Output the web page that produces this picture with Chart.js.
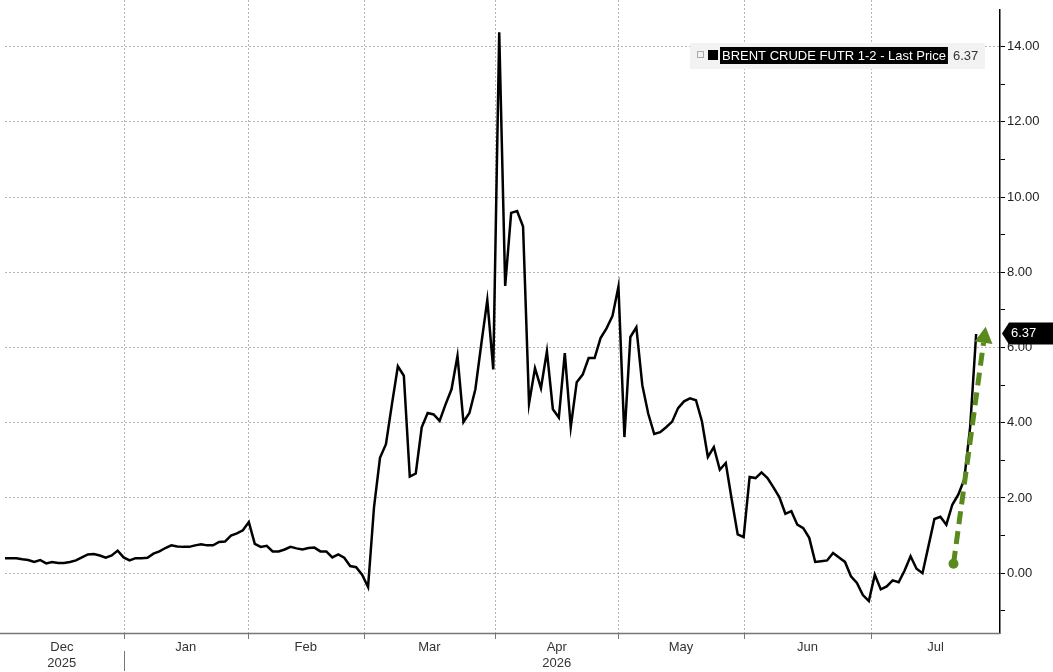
<!DOCTYPE html>
<html>
<head>
<meta charset="utf-8">
<script src="https://cdn.jsdelivr.net/npm/chart.js@4/dist/chart.umd.min.js"></script>
<style>
  html, body { margin: 0; padding: 0; background: #fff; }
  #wrap { width: 1053px; height: 672px; }
</style>
</head>
<body>
<div id="wrap"><canvas id="c" width="1053" height="672"></canvas></div>
<script>
// ── data (one point per trading day) ──
const decFeb = [0.40, 0.40, 0.40, 0.37, 0.35, 0.30, 0.35, 0.26, 0.30, 0.27, 0.27, 0.30, 0.34, 0.42, 0.50,
  0.51, 0.47, 0.41, 0.47, 0.60, 0.42, 0.34, 0.40, 0.40, 0.41, 0.52, 0.58, 0.67, 0.74, 0.71, 0.70, 0.70,
  0.74, 0.77, 0.74, 0.74, 0.83, 0.84, 1.00, 1.06, 1.14, 1.36, 0.78, 0.70, 0.73, 0.58, 0.58, 0.63, 0.70,
  0.66, 0.63, 0.67, 0.68, 0.58, 0.58, 0.42, 0.50, 0.41, 0.19, 0.16, -0.04, -0.37];
const marMay = [1.76, 3.07, 3.43, 4.49, 5.50, 5.25, 2.57, 2.65, 3.88, 4.26, 4.22, 4.05, 4.49, 4.89, 5.78,
  4.02, 4.26, 4.89, 6.10, 7.26, 5.42, 14.38, 7.64, 9.58, 9.63, 9.22, 4.51, 5.45, 4.92, 5.90, 4.36, 4.14,
  5.85, 3.88, 5.08, 5.28, 5.72, 5.72, 6.25, 6.51, 6.84, 7.62, 3.62, 6.28, 6.54, 5.00, 4.24, 3.70, 3.75,
  3.88, 4.03, 4.39];
const mayJul = [4.57, 4.65, 4.60, 4.04, 3.09, 3.35, 2.75, 2.93, 1.96, 1.03, 0.96, 2.56, 2.53, 2.68, 2.53,
  2.28, 2.02, 1.58, 1.65, 1.29, 1.20, 0.94, 0.30, 0.32, 0.34, 0.54, 0.42, 0.30, -0.08, -0.26, -0.58, -0.74,
  -0.04, -0.43, -0.35, -0.19, -0.24, 0.07, 0.45, 0.12, 0.00, 0.72, 1.44, 1.50, 1.29, 1.82, 2.09, 2.49,
  3.90, 6.36];
const values = decFeb.concat(marMay, mayJul);

const months = ['Dec', 'Jan', 'Feb', 'Mar', 'Apr', 'May', 'Jun', 'Jul'];
const monthStarts = [-20.8, 20.0, 40.8, 60.3, 82.3, 103.0, 124.0, 145.4, 170]; // trading-day index
const years = [{ label: '2025', month: 0 }, { label: '2026', month: 4 }];
const lastPrice = 6.37;
const seriesName = 'BRENT CRUDE FUTR 1-2 - Last Price';
const arrowFrom = { x: 159.2, y: 0.25 };
const arrowTo = { x: 164.6, y: 6.55 };

const points = values.map((v, i) => ({ x: i, y: v }));
const FONT = '"Liberation Sans", Arial, sans-serif';

// ── extras drawn on the canvas ──
const extras = {
  id: 'extras',
  beforeDatasetsDraw(chart) {
    const { ctx, chartArea: a, scales: { x } } = chart;
    ctx.save();
    ctx.strokeStyle = '#b5b5b5';
    ctx.setLineDash([2, 2]);
    monthStarts.slice(1, -1).forEach(m => {
      const px = Math.round(x.getPixelForValue(m)) + 0.5;
      ctx.beginPath(); ctx.moveTo(px, 0); ctx.lineTo(px, a.bottom); ctx.stroke();
    });
    ctx.restore();
  },
  afterDatasetsDraw(chart) {
    const { ctx, chartArea: a, scales: { x, y } } = chart;
    ctx.save();

    // bottom axis
    ctx.strokeStyle = '#777'; ctx.lineWidth = 1.5;
    ctx.beginPath(); ctx.moveTo(0, a.bottom + 0.5); ctx.lineTo(a.right, a.bottom + 0.5); ctx.stroke();
    ctx.lineWidth = 1;
    monthStarts.slice(1, -1).forEach(m => {
      const px = Math.round(x.getPixelForValue(m)) + 0.5;
      ctx.beginPath(); ctx.moveTo(px, a.bottom); ctx.lineTo(px, a.bottom + 6); ctx.stroke();
    });
    ctx.beginPath();
    ctx.moveTo(Math.round(x.getPixelForValue(monthStarts[1])) + 0.5, a.bottom + 18);
    ctx.lineTo(Math.round(x.getPixelForValue(monthStarts[1])) + 0.5, a.bottom + 38);
    ctx.stroke();

    ctx.fillStyle = '#333'; ctx.font = '13px ' + FONT;
    ctx.textAlign = 'center'; ctx.textBaseline = 'middle';
    months.forEach((m, i) => {
      const lo = Math.max(x.getPixelForValue(monthStarts[i]), 0);
      const hi = Math.min(x.getPixelForValue(monthStarts[i + 1]), a.right);
      ctx.fillText(m, (lo + hi) / 2, a.bottom + 14);
    });
    years.forEach(yr => {
      const lo = Math.max(x.getPixelForValue(monthStarts[yr.month]), 0);
      const hi = Math.min(x.getPixelForValue(monthStarts[yr.month + 1]), a.right);
      ctx.fillText(yr.label, (lo + hi) / 2, a.bottom + 30);
    });

    // green dashed arrow
    const x0 = x.getPixelForValue(arrowFrom.x), y0 = y.getPixelForValue(arrowFrom.y);
    const x1 = x.getPixelForValue(arrowTo.x), y1 = y.getPixelForValue(arrowTo.y);
    const ang = Math.atan2(y1 - y0, x1 - x0);
    const hx = x1 - 16 * Math.cos(ang), hy = y1 - 16 * Math.sin(ang);
    ctx.strokeStyle = '#5a8a1e'; ctx.fillStyle = '#5a8a1e';
    ctx.lineWidth = 5; ctx.setLineDash([13, 7]);
    ctx.beginPath(); ctx.moveTo(x0, y0); ctx.lineTo(hx, hy); ctx.stroke();
    ctx.setLineDash([]);
    ctx.beginPath(); ctx.arc(x0, y0, 5, 0, Math.PI * 2); ctx.fill();
    ctx.beginPath();
    ctx.moveTo(x1, y1);
    ctx.lineTo(hx + 9 * Math.sin(ang), hy - 9 * Math.cos(ang));
    ctx.lineTo(hx - 9 * Math.sin(ang), hy + 9 * Math.cos(ang));
    ctx.closePath(); ctx.fill();

    // last price tag
    const ty = y.getPixelForValue(lastPrice);
    ctx.fillStyle = '#000';
    ctx.beginPath();
    ctx.moveTo(a.right + 2, ty);
    ctx.lineTo(a.right + 9, ty - 11);
    ctx.lineTo(1053, ty - 11);
    ctx.lineTo(1053, ty + 11);
    ctx.lineTo(a.right + 9, ty + 11);
    ctx.closePath(); ctx.fill();
    ctx.fillStyle = '#fff'; ctx.textAlign = 'left';
    ctx.font = '13px ' + FONT;
    ctx.fillText(lastPrice.toFixed(2), a.right + 11, ty);

    // legend box
    ctx.fillStyle = '#f2f2f2';
    ctx.fillRect(690, 43, 295, 26);
    ctx.strokeStyle = '#aaa'; ctx.lineWidth = 1;
    ctx.strokeRect(697.5, 51.5, 6, 6);
    ctx.fillStyle = '#000';
    ctx.fillRect(708, 50, 10, 10);
    ctx.font = '13px ' + FONT;
    const tw = ctx.measureText(seriesName).width;
    ctx.fillRect(720, 47, tw + 4, 17);
    ctx.fillStyle = '#fff';
    ctx.fillText(seriesName, 722, 56);
    ctx.fillStyle = '#333';
    ctx.fillText(lastPrice.toFixed(2), 729 + tw, 56);
    ctx.restore();
  }
};

new Chart(document.getElementById('c'), {
  type: 'line',
  data: {
    datasets: [{
      data: points,
      borderColor: '#000',
      borderWidth: 2.5,
      pointRadius: 0,
      tension: 0,
    }],
  },
  options: {
    responsive: false,
    animation: false,
    layout: { padding: { left: 5, top: 0, bottom: 39, right: 0 } },
    plugins: { legend: { display: false }, tooltip: { enabled: false } },
    scales: {
      x: {
        type: 'linear', display: false,
        min: 0.1, max: 167.0,
      },
      y: {
        position: 'right',
        min: -1.59, max: 14.98,
        afterFit: s => { s.width = 53; },
        afterBuildTicks: s => {
          const t = [];
          for (let v = -1; v <= 14; v++) t.push({ value: v });
          s.ticks = t;
        },
        ticks: {
          color: '#222',
          font: { size: 13, family: FONT },
          padding: 2,
          callback: v => (v % 2 === 0 ? v.toFixed(2) : ''),
        },
        grid: {
          color: ctx => (ctx.tick && ctx.tick.value % 2 === 0 ? '#b5b5b5' : 'rgba(0,0,0,0)'),
          tickColor: '#000',
          tickLength: 5,
        },
        border: { display: true, color: '#000', width: 1.5, dash: [2, 2] },
      },
    },
  },
  plugins: [extras],
});
</script>
</body>
</html>
